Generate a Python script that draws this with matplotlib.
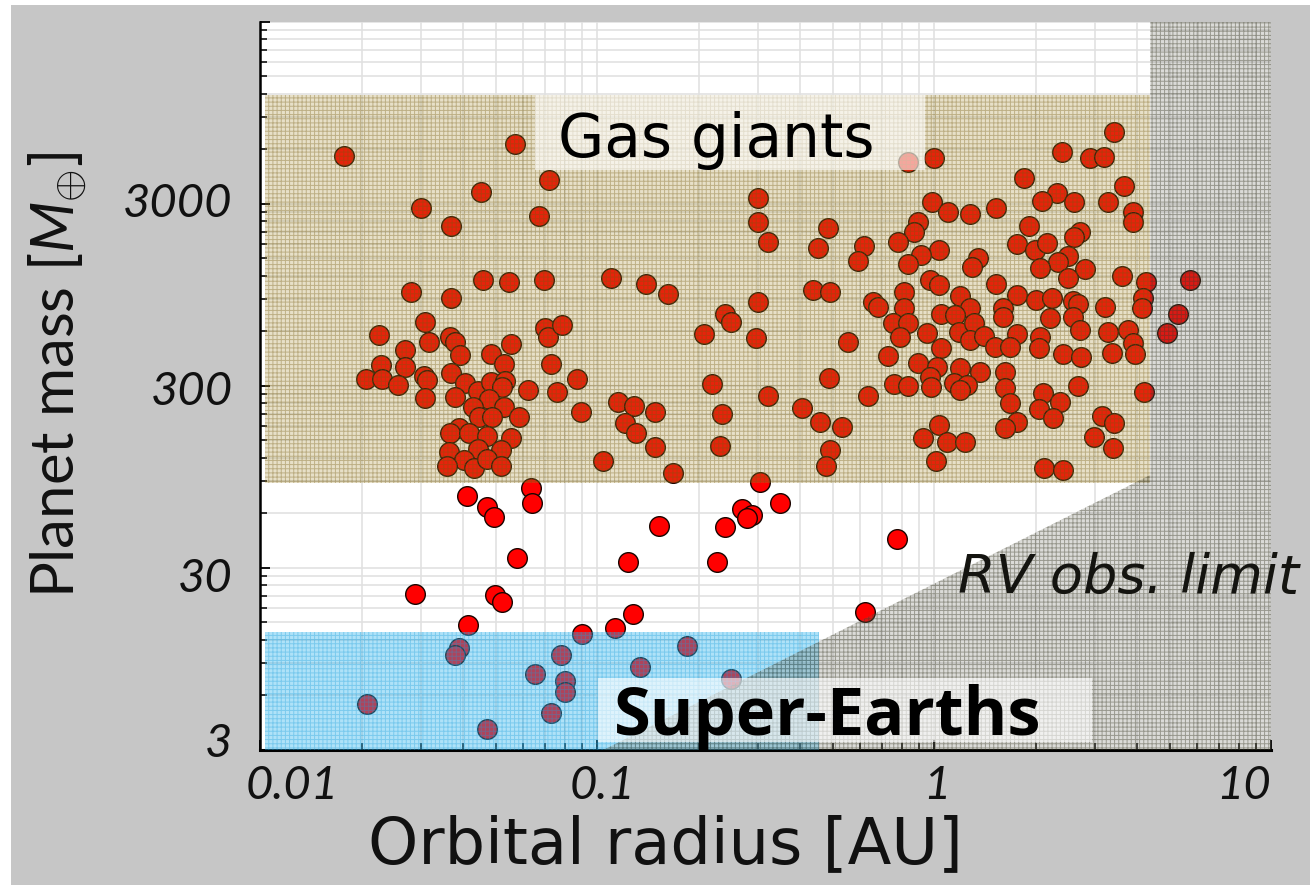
import matplotlib
matplotlib.use("Agg")
import matplotlib.pyplot as plt
from matplotlib.patches import Rectangle, Polygon
from matplotlib.ticker import FixedLocator, FixedFormatter, NullFormatter
from matplotlib.transforms import ScaledTranslation

plt.rcParams['font.family'] = ['Lato', 'DejaVu Sans']
plt.rcParams['mathtext.fontset'] = 'custom'
plt.rcParams['mathtext.rm'] = 'Lato'
plt.rcParams['mathtext.it'] = 'Lato:italic'
plt.rcParams['hatch.linewidth'] = 0.7

EARTH_PER_JUPITER = 317.8

# ---- exoplanet sample: orbital radius [AU], mass [Earth masses] ----
inner_a = [0.0177, 0.0571, 0.0720, 0.0452, 0.0300, 0.0671, 0.0368, 0.0280, 0.0368, 0.0458, 0.0548, 0.0693,
           0.0309, 0.0225, 0.0317, 0.0366, 0.0379, 0.0269, 0.0391, 0.0484, 0.0556, 0.0698, 0.0714, 0.0786,
           0.0228, 0.0269, 0.0527, 0.0730, 0.0206, 0.0229, 0.0256, 0.0305, 0.0312, 0.0368, 0.0406, 0.0443,
           0.0485, 0.0533, 0.0521, 0.0621, 0.0759, 0.0309, 0.0379, 0.0476, 0.0527, 0.0428, 0.0447, 0.0487,
           0.0587, 0.0389, 0.0366, 0.0415, 0.0471, 0.0556, 0.0363, 0.0443, 0.0519, 0.0401, 0.0358, 0.0430,
           0.0471, 0.0519]
inner_m = [5810, 6780, 4290, 3680, 3010, 2720, 2390, 1040, 968, 1210, 1180, 1210,
           711, 602, 550, 586, 555, 499, 469, 474, 539, 657, 591, 685,
           413, 404, 418, 418, 347, 347, 321, 359, 342, 375, 330, 298,
           334, 338, 314, 300, 292, 271, 277, 267, 244, 244, 213, 213,
           215, 187, 175, 175, 168, 163, 138, 143, 141, 124, 115, 112,
           125, 115]

warm_a = [0.299, 0.299, 0.320, 0.483, 0.452, 0.620, 0.595, 0.110, 0.139, 0.162, 0.299, 0.239,
          0.250, 0.207, 0.295, 0.437, 0.490, 0.659, 0.679, 0.556, 0.729, 0.0872, 0.219, 0.488,
          0.636, 0.320, 0.0895, 0.115, 0.1285, 0.148, 0.121, 0.1305, 0.234, 0.404, 0.458, 0.531,
          0.148, 0.231, 0.490, 0.476, 0.104, 0.168, 0.304]
warm_m = [3400, 2510, 1950, 2330, 1810, 1860, 1545, 1236, 1150, 1013, 913, 787,
          709, 609, 579, 1067, 1037, 920, 863, 550, 463, 345, 323, 351,
          279, 280, 227, 258, 247, 227, 198, 175, 222, 239, 200, 189,
          147, 148, 141, 115, 123, 105, 94.3]

cool_a = [0.834, 0.998, 1.845, 0.987, 1.10, 1.28, 1.52, 0.895, 0.872, 0.780, 1.03, 0.910,
          0.834, 1.35, 1.29, 1.76, 1.91, 0.970, 1.03, 1.52, 1.19, 0.813, 0.813, 1.28,
          1.045, 1.15, 1.76, 1.60, 1.60, 0.756, 0.836, 0.949, 0.792, 1.18, 1.31, 1.28,
          1.40, 1.76, 1.51, 1.68, 1.05, 0.895, 1.02, 1.19, 1.37, 1.62, 0.970, 1.14,
          1.25, 0.759, 0.836, 0.979, 1.19, 1.62, 1.68, 1.76, 1.62, 1.03, 0.923, 1.09,
          1.23, 1.01, 3.42, 2.40, 2.90, 3.19, 3.66, 2.31, 2.08, 2.60, 3.28, 3.88,
          3.88, 2.71, 2.60, 1.99, 2.16, 2.50, 2.33, 2.06, 2.79, 2.50, 3.61, 4.25,
          5.74, 4.17, 4.14, 5.30, 4.89, 2.00, 2.23, 2.58, 2.66, 2.20, 2.58, 2.71,
          3.21, 3.28, 3.76, 3.89, 3.94, 3.36, 2.06, 2.04, 2.41, 2.73, 2.67, 4.20,
          2.10, 2.36, 2.05, 2.25, 3.14, 3.42, 2.98, 3.38, 2.11, 2.41]
cool_m = [5405, 5640, 4380, 3235, 2850, 2780, 3010, 2520, 2210, 1950, 1770, 1650,
          1480, 1590, 1430, 1910, 2400, 1210, 1140, 1150, 993, 1046, 846, 846,
          787, 777, 1000, 846, 761, 700, 700, 621, 591, 630, 700, 567,
          596, 611, 521, 521, 510, 425, 404, 396, 380, 380, 356, 330,
          321, 325, 316, 312, 301, 308, 254, 202, 185, 193, 163, 155,
          155, 123, 7910, 6130, 5640, 5720, 3975, 3650, 3300, 3235, 3235, 2870,
          2510, 2230, 2090, 1770, 1930, 1640, 1525, 1400, 1390, 1236, 1270, 1176,
          1210, 960, 846, 787, 621, 939, 960, 932, 890, 746, 761, 643,
          863, 630, 643, 543, 474, 479, 591, 510, 473, 459, 316, 292,
          289, 260, 237, 210, 217, 199, 167, 144, 112, 109]

low_a = [0.0636, 0.0642, 0.0411, 0.0472, 0.0493, 0.348, 0.268, 0.287, 0.279, 0.240, 0.1525, 0.774,
         0.0578, 0.123, 0.227, 0.0288, 0.0496, 0.0521, 0.624, 0.0414, 0.128, 0.113, 0.0898, 0.0388,
         0.0377, 0.0781, 0.185, 0.1335, 0.0652, 0.0804, 0.0804, 0.249, 0.0207, 0.0729, 0.0472]
low_m = [86.8, 71.8, 78.7, 68.8, 60.6, 71.8, 66.5, 61.9, 59.4, 53.0, 53.9, 45.5,
         36.1, 34.3, 34.3, 22.8, 22.5, 20.5, 18.2, 15.4, 17.7, 14.9, 13.7, 11.5,
         10.5, 10.5, 11.8, 9.01, 8.28, 7.61, 6.62, 7.75, 5.65, 5.03, 4.11]

# ---- population regions ----
giant_a = (0.0103, 4.37)          # AU
giant_m = (93.0, 12570.0)         # Earth masses
superearth_a = (0.0103, 0.455)
superearth_m = (3.0, 14.1)
rv_limit_a = [0.0984, 4.37, 4.37, 10.0, 10.0]
rv_limit_m = [3.0, 102.6, 40000.0, 40000.0, 3.0]

# ---- axes ----
x_ticks = [0.01, 0.1, 1, 10]
x_tick_labels = ['0.01', '0.1', '1', '10']
y_ticks = [0.01 * EARTH_PER_JUPITER, 0.1 * EARTH_PER_JUPITER, EARTH_PER_JUPITER,
           10 * EARTH_PER_JUPITER, 100 * EARTH_PER_JUPITER]
y_tick_labels = ['3', '30', '300', '3000', '']

fig = plt.figure(figsize=(13.1, 8.85), dpi=100, facecolor='white')
fig.patches.append(Rectangle((11 / 1310, 0), 1, 1 - 5 / 885, transform=fig.transFigure,
                             facecolor='#c6c6c6', edgecolor='none', zorder=-10))

ax = fig.add_axes([0.1987, 0.1529, 0.7718, 0.8226])
ax.set_facecolor('white')
ax.set_xscale('log')
ax.set_yscale('log')
ax.set_xlim(0.01, 10)
ax.set_ylim(y_ticks[0], y_ticks[-1])

ax.xaxis.set_major_locator(FixedLocator(x_ticks))
ax.xaxis.set_major_formatter(FixedFormatter(x_tick_labels))
ax.xaxis.set_minor_locator(FixedLocator([m * 10.0 ** k for k in (-2, -1, 0) for m in range(2, 10)]))
ax.xaxis.set_minor_formatter(NullFormatter())
ax.yaxis.set_major_locator(FixedLocator(y_ticks))
ax.yaxis.set_major_formatter(FixedFormatter(y_tick_labels))
ax.yaxis.set_minor_locator(FixedLocator([m * y_ticks[0] * 10.0 ** k for k in range(4) for m in range(2, 10)]))
ax.yaxis.set_minor_formatter(NullFormatter())

ax.tick_params(which='major', direction='in', length=7.5, width=1.3, color='black', labelsize=34)
ax.tick_params(which='minor', direction='in', length=5, width=1.1, color='black')
ax.tick_params(axis='x', which='major', pad=11)
ax.tick_params(axis='y', which='major', pad=20)
for spine in ('top', 'right'):
    ax.spines[spine].set_visible(False)
ax.spines['left'].set_linewidth(1.8)
ax.spines['bottom'].set_linewidth(2.2)

ax.grid(which='both', color='#e1e1e1', linewidth=1.2)
ax.set_axisbelow(True)

# shift individual tick labels (points)
x_shift = [23, 4, 2, -20]
for lab, dx in zip(ax.xaxis.get_majorticklabels(), x_shift):
    lab.set_fontstyle('italic')
    lab.set_color('#111111')
    lab.set_transform(lab.get_transform() + ScaledTranslation(dx / 72, 0, fig.dpi_scale_trans))
y_shift = [7, -5, -1.4, 2.9, 0]
for lab, dy in zip(ax.yaxis.get_majorticklabels(), y_shift):
    lab.set_fontstyle('italic')
    lab.set_color('#111111')
    lab.set_transform(lab.get_transform() + ScaledTranslation(0, dy / 72, fig.dpi_scale_trans))

# ---- planets ----
for a_vals, m_vals in ((inner_a, inner_m), (warm_a, warm_m), (cool_a, cool_m), (low_a, low_m)):
    ax.scatter(a_vals, m_vals, s=200, c='#ff0000', edgecolors='#1a0500', linewidths=1.0, zorder=3)

# ---- translucent textured regions drawn over the points ----
ax.add_patch(Rectangle((giant_a[0], giant_m[0]), giant_a[1] - giant_a[0], giant_m[1] - giant_m[0],
                       facecolor=(0.64, 0.54, 0.18, 0.26), edgecolor=(0.45, 0.35, 0.06, 0.36),
                       hatch='++++', linewidth=0, zorder=4))
ax.add_patch(Rectangle((superearth_a[0], superearth_m[0]), superearth_a[1] - superearth_a[0],
                       superearth_m[1] - superearth_m[0],
                       facecolor=(0.18, 0.70, 0.93, 0.38), edgecolor=(0.10, 0.62, 0.86, 0.35),
                       hatch='++++', linewidth=0, zorder=4))
ax.add_patch(Polygon(list(zip(rv_limit_a, rv_limit_m)), closed=True,
                     facecolor=(0.42, 0.42, 0.36, 0.24), edgecolor=(0.24, 0.24, 0.16, 0.42),
                     hatch='++++', linewidth=0, zorder=4))

# ---- labels ----
ax.add_patch(Rectangle((0.2717, 0.7963), 0.3858, 0.1030, transform=ax.transAxes,
                       facecolor=(1, 1, 1, 0.6), edgecolor='none', zorder=5))
ax.text(0.294, 0.814, 'Gas giants', transform=ax.transAxes, fontsize=43,
        family='DejaVu Sans', color='black', ha='left', va='baseline', zorder=6)

ax.add_patch(Rectangle((0.334, 0.0106), 0.4887, 0.0879, transform=ax.transAxes,
                       facecolor=(1, 1, 1, 0.6), edgecolor='none', zorder=5))
ax.text(0.350, 0.0203, 'Super-Earths', transform=ax.transAxes, fontsize=48,
        family=['Open Sans', 'DejaVu Sans'], fontweight='bold', color='black',
        ha='left', va='baseline', zorder=6)

ax.text(0.690, 0.215, 'RV obs. limit', transform=ax.transAxes, fontsize=39,
        family='DejaVu Sans', fontstyle='italic', color='#141410',
        ha='left', va='baseline', zorder=6, clip_on=False)

fig.text(665 / 1310, 1 - 845 / 885, 'Orbital radius [AU]', fontsize=46,
         family='DejaVu Sans', color='#111111', ha='center', va='center')
fig.text(58 / 1310, 1 - 375 / 885, r'Planet mass [$M_{\oplus}$]', fontsize=43,
         color='#111111', ha='center', va='center', rotation=90)

fig.savefig('out.png', dpi=100, facecolor=fig.get_facecolor())
